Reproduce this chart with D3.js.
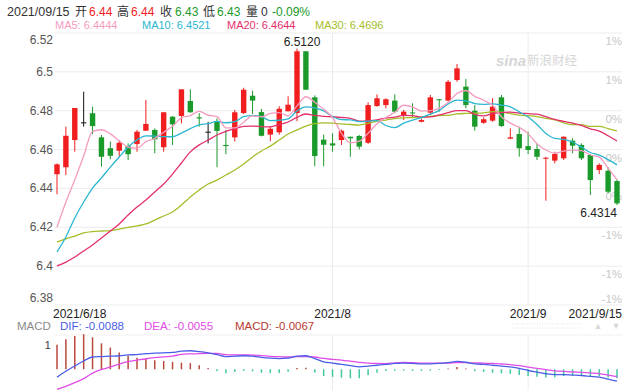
<!DOCTYPE html>
<html><head><meta charset="utf-8">
<script src="https://cdn.jsdelivr.net/npm/d3@7"></script>
<style>
html,body{margin:0;padding:0;background:#fff;}
svg{display:block;font-family:"Liberation Sans",Arial,"Noto Sans CJK SC",sans-serif;}
</style></head><body>
<svg id="chart" width="640" height="392"></svg>
<script>
// ---------- data ----------
const dates = [
 "2021-06-18","2021-06-21","2021-06-22","2021-06-23","2021-06-24","2021-06-25","2021-06-28","2021-06-29","2021-06-30",
 "2021-07-01","2021-07-02","2021-07-05","2021-07-06","2021-07-07","2021-07-08","2021-07-09","2021-07-12","2021-07-13","2021-07-14","2021-07-15","2021-07-16","2021-07-19","2021-07-20","2021-07-21","2021-07-22","2021-07-23","2021-07-26","2021-07-27","2021-07-28","2021-07-29","2021-07-30",
 "2021-08-02","2021-08-03","2021-08-04","2021-08-05","2021-08-06","2021-08-09","2021-08-10","2021-08-11","2021-08-12","2021-08-13","2021-08-16","2021-08-17","2021-08-18","2021-08-19","2021-08-20","2021-08-23","2021-08-24","2021-08-25","2021-08-26","2021-08-27","2021-08-30","2021-08-31",
 "2021-09-01","2021-09-02","2021-09-03","2021-09-06","2021-09-07","2021-09-08","2021-09-09","2021-09-10","2021-09-13","2021-09-14","2021-09-15"];
const open  = [6.4473,6.4509,6.4649,6.4740,6.4787,6.4663,6.4607,6.4594,6.4618,6.4629,6.4697,6.4701,6.4612,6.4769,6.4773,6.4850,6.4766,6.4692,6.4743,6.4624,6.4663,6.4788,6.4877,6.4793,6.4677,6.4689,6.4797,6.4788,6.5106,6.4869,6.4651,6.4632,6.4649,6.4666,6.4670,6.4635,6.4824,6.4829,6.4852,6.4773,6.4791,6.4743,6.4790,6.4859,6.4852,6.4958,6.4924,6.4800,6.4738,6.4749,6.4869,6.4656,6.4680,6.4618,6.4603,6.4555,6.4543,6.4555,6.4646,6.4624,6.4572,6.4495,6.4491,6.4438];
const high  = [6.4529,6.4718,6.4814,6.4898,6.4821,6.4675,6.4641,6.4649,6.4632,6.4701,6.4855,6.4709,6.4792,6.4772,6.4910,6.4910,6.4787,6.4743,6.4761,6.4701,6.4804,6.4918,6.4903,6.4809,6.4720,6.4823,6.4874,6.5120,6.5106,6.4879,6.4677,6.4684,6.4703,6.4666,6.4675,6.4843,6.4884,6.4864,6.4884,6.4804,6.4838,6.4760,6.4881,6.4859,6.4958,6.5040,6.4963,6.4829,6.4766,6.4864,6.4881,6.4709,6.4718,6.4692,6.4629,6.4563,6.4589,6.4668,6.4658,6.4632,6.4577,6.4529,6.4509,6.4446];
const low   = [6.4370,6.4469,6.4589,6.4718,6.4680,6.4512,6.4550,6.4563,6.4546,6.4589,6.4697,6.4581,6.4589,6.4624,6.4735,6.4790,6.4718,6.4632,6.4509,6.4576,6.4641,6.4783,6.4783,6.4668,6.4643,6.4677,6.4797,6.4746,6.4908,6.4514,6.4514,6.4589,6.4624,6.4563,6.4601,6.4629,6.4821,6.4812,6.4787,6.4752,6.4769,6.4740,6.4778,6.4795,6.4848,6.4949,6.4812,6.4697,6.4733,6.4743,6.4717,6.4653,6.4563,6.4577,6.4546,6.4337,6.4529,6.4546,6.4581,6.4546,6.4366,6.4474,6.4375,6.4314];
const close = [6.4524,6.4671,6.4814,6.4740,6.4721,6.4563,6.4568,6.4635,6.4576,6.4692,6.4732,6.4653,6.4792,6.4730,6.4910,6.4792,6.4760,6.4692,6.4696,6.4618,6.4792,6.4908,6.4852,6.4671,6.4707,6.4810,6.4831,6.5106,6.4908,6.4567,6.4625,6.4621,6.4697,6.4658,6.4615,6.4829,6.4864,6.4859,6.4795,6.4795,6.4787,6.4752,6.4869,6.4855,6.4949,6.5018,6.4829,6.4718,6.4756,6.4821,6.4721,6.4663,6.4607,6.4598,6.4563,6.4558,6.4577,6.4666,6.4620,6.4555,6.4443,6.4521,6.4383,6.4323];

const ma5  = [6.4200,6.4330,6.4445,6.4567,6.4694,6.4702,6.4681,6.4645,6.4613,6.4607,6.4641,6.4658,6.4689,6.4720,6.4763,6.4775,6.4797,6.4777,6.4770,6.4712,6.4712,6.4741,6.4773,6.4768,6.4786,6.4790,6.4774,6.4825,6.4872,6.4844,6.4807,6.4765,6.4684,6.4634,6.4643,6.4684,6.4733,6.4765,6.4792,6.4828,6.4820,6.4798,6.4800,6.4812,6.4842,6.4889,6.4904,6.4874,6.4854,6.4828,6.4769,6.4736,6.4714,6.4682,6.4630,6.4598,6.4581,6.4592,6.4597,6.4595,6.4572,6.4561,6.4504,6.4444];
const ma10 = [6.4073,6.4150,6.4248,6.4330,6.4402,6.4454,6.4510,6.4562,6.4613,6.4650,6.4671,6.4669,6.4667,6.4666,6.4685,6.4708,6.4727,6.4733,6.4745,6.4738,6.4744,6.4769,6.4775,6.4769,6.4749,6.4751,6.4758,6.4799,6.4820,6.4815,6.4799,6.4770,6.4754,6.4753,6.4744,6.4746,6.4749,6.4724,6.4713,6.4736,6.4752,6.4765,6.4782,6.4802,6.4835,6.4854,6.4851,6.4837,6.4833,6.4835,6.4829,6.4820,6.4794,6.4768,6.4729,6.4683,6.4658,6.4653,6.4639,6.4613,6.4585,6.4571,6.4548,6.4521];
const ma20 = [6.4001,6.4021,6.4047,6.4078,6.4109,6.4145,6.4181,6.4217,6.4263,6.4304,6.4340,6.4382,6.4423,6.4474,6.4531,6.4588,6.4624,6.4649,6.4675,6.4694,6.4707,6.4719,6.4721,6.4718,6.4717,6.4729,6.4742,6.4766,6.4783,6.4776,6.4771,6.4769,6.4765,6.4761,6.4746,6.4748,6.4753,6.4762,6.4767,6.4776,6.4775,6.4767,6.4768,6.4778,6.4790,6.4800,6.4800,6.4781,6.4773,6.4786,6.4790,6.4793,6.4788,6.4785,6.4782,6.4769,6.4755,6.4745,6.4736,6.4724,6.4707,6.4695,6.4671,6.4644];
const ma30 = [6.4124,6.4140,6.4155,6.4171,6.4178,6.4181,6.4183,6.4191,6.4199,6.4207,6.4217,6.4237,6.4258,6.4279,6.4315,6.4356,6.4392,6.4423,6.4443,6.4469,6.4495,6.4526,6.4562,6.4593,6.4618,6.4649,6.4680,6.4701,6.4721,6.4734,6.4737,6.4736,6.4732,6.4729,6.4726,6.4735,6.4746,6.4752,6.4759,6.4763,6.4765,6.4768,6.4771,6.4775,6.4776,6.4784,6.4786,6.4787,6.4789,6.4795,6.4793,6.4785,6.4777,6.4774,6.4770,6.4761,6.4753,6.4738,6.4728,6.4728,6.4719,6.4719,6.4708,6.4696];

const dif  = [-0.0058,-0.0015,0.0024,0.0061,0.0091,0.0094,0.0097,0.0100,0.0106,0.0109,0.0116,0.0119,0.0122,0.0125,0.0134,0.0137,0.0131,0.0122,0.0109,0.0094,0.0097,0.0100,0.0097,0.0088,0.0082,0.0079,0.0082,0.0097,0.0100,0.0079,0.0055,0.0046,0.0036,0.0027,0.0018,0.0024,0.0030,0.0036,0.0043,0.0046,0.0043,0.0040,0.0040,0.0043,0.0049,0.0058,0.0052,0.0040,0.0036,0.0030,0.0024,0.0018,0.0006,-0.0009,-0.0021,-0.0033,-0.0040,-0.0040,-0.0043,-0.0046,-0.0052,-0.0058,-0.0073,-0.0088];
const dea  = [-0.0149,-0.0126,-0.0099,-0.0069,-0.0028,-0.0002,0.0017,0.0038,0.0056,0.0067,0.0078,0.0086,0.0092,0.0098,0.0110,0.0114,0.0116,0.0117,0.0117,0.0109,0.0107,0.0106,0.0105,0.0101,0.0096,0.0093,0.0091,0.0093,0.0094,0.0091,0.0080,0.0074,0.0067,0.0060,0.0051,0.0046,0.0043,0.0042,0.0048,0.0051,0.0049,0.0046,0.0045,0.0046,0.0046,0.0050,0.0049,0.0047,0.0046,0.0043,0.0039,0.0035,0.0027,0.0016,0.0007,-0.0003,-0.0011,-0.0015,-0.0020,-0.0023,-0.0027,-0.0032,-0.0043,-0.0055];
const macdHist = [0.0182,0.0222,0.0246,0.0259,0.0237,0.0192,0.0161,0.0125,0.0100,0.0085,0.0076,0.0067,0.0061,0.0055,0.0049,0.0046,0.0030,0.0010,-0.0015,-0.0030,-0.0020,-0.0012,-0.0015,-0.0025,-0.0028,-0.0028,-0.0018,0.0009,0.0012,-0.0024,-0.0050,-0.0056,-0.0062,-0.0066,-0.0066,-0.0044,-0.0026,-0.0012,-0.0010,-0.0010,-0.0012,-0.0012,-0.0010,-0.0006,0.0006,0.0016,0.0006,-0.0014,-0.0020,-0.0026,-0.0030,-0.0034,-0.0042,-0.0050,-0.0055,-0.0060,-0.0058,-0.0050,-0.0046,-0.0046,-0.0050,-0.0052,-0.0060,-0.0067];

const priceTicks = [6.52,6.50,6.48,6.46,6.44,6.42,6.40,6.38];
const priceTickLabels = ["6.52","6.5","6.48","6.46","6.44","6.42","6.4","6.38"];
const pctTickLabels = ["1%","1%","0%","0%","0%","-1%","-1%","-1%"];
const dateTicks = ["2021-06-18","2021-08-02","2021-09-01","2021-09-15"];
const dateTickLabels = ["2021/6/18","2021/8","2021/9","2021/9/15"];
const macdTickLabel = "1";

// ---------- style ----------
const RED = "#f01e1e", GREEN = "#1a9a2a", BLACK = "#111";
const C5 = "#f49cc0", C10 = "#2bb6d0", C20 = "#e3306c", C30 = "#a6bd2a";
const CDIF = "#4b5ee6", CDEA = "#e24ce6", CHR = "#b8493c", CHG = "#3fc7a0";

const svg = d3.select("#chart");
const x = d3.scalePoint().domain(dates).range([57, 617]);
const y = d3.scaleLinear().domain([6.38, 6.52]).range([305, 33]);
const ym = d3.scaleLinear().domain([-0.0145, 0.0255]).range([388.9, 334.8]);
const GX0 = 55, GX1 = 622;

// grid
const g = svg.append("g");
g.selectAll("line.h").data(priceTicks).join("line")
  .attr("x1", GX0).attr("x2", GX1).attr("y1", d => y(d)).attr("y2", d => y(d))
  .attr("stroke", "#ececec").attr("stroke-width", 1);
const vTicks = dateTicks.slice(1, 3);
g.selectAll("line.v").data(vTicks).join("line")
  .attr("x1", d => x(d)).attr("x2", d => x(d)).attr("y1", 33).attr("y2", 305)
  .attr("stroke", "#ececec");
g.selectAll("line.vm").data(vTicks).join("line")
  .attr("x1", d => x(d)).attr("x2", d => x(d)).attr("y1", 335).attr("y2", 390)
  .attr("stroke", "#ececec");
g.append("line").attr("x1", GX0).attr("x2", GX1).attr("y1", 335).attr("y2", 335).attr("stroke", "#f0f0f0");

// left axis labels
svg.append("g").selectAll("text").data(priceTicks).join("text")
  .attr("x", 53).attr("text-anchor", "end")
  .attr("y", (d, i) => y(d) + (i === 0 ? 7 : i === priceTicks.length - 1 ? -7 : 0))
  .attr("dominant-baseline", "central")
  .attr("font-size", 12).attr("fill", "#555")
  .text((d, i) => priceTickLabels[i]);

// right axis labels
svg.append("g").selectAll("text").data(priceTicks).join("text")
  .attr("x", 622).attr("text-anchor", "end")
  .attr("y", (d, i) => y(d) + (i === priceTicks.length - 1 ? -6 : 8))
  .attr("dominant-baseline", "central")
  .attr("font-size", 11.5).attr("fill", "#c8c8c8")
  .text((d, i) => pctTickLabels[i]);

// watermark
const wm = svg.append("g").attr("fill", "#d6d6d6");
wm.append("text").attr("x", 496).attr("y", 66).attr("font-size", 15).attr("font-style", "italic").attr("font-weight", "bold").text("sina");
wm.append("text").attr("x", 527).attr("y", 65).attr("font-size", 12.5).attr("font-family", "Noto Sans CJK SC").text("新浪财经");

// date labels
svg.append("g").selectAll("text").data(dateTicks).join("text")
  .attr("x", (d, i) => i === 0 ? 53 : i === dateTicks.length - 1 ? 622 : x(d))
  .attr("text-anchor", (d, i) => i === 0 ? "start" : i === dateTicks.length - 1 ? "end" : "middle")
  .attr("y", 314).attr("dominant-baseline", "central")
  .attr("font-size", 12).attr("fill", "#222")
  .text((d, i) => dateTickLabels[i]);

// candles
const candles = dates.map((d, i) => ({ d, o: open[i], h: high[i], l: low[i], c: close[i] }));
const col = k => k.c > k.o ? RED : k.c < k.o ? GREEN : BLACK;
const cg = svg.append("g");
cg.selectAll("line").data(candles).join("line")
  .attr("x1", k => x(k.d)).attr("x2", k => x(k.d))
  .attr("y1", k => y(k.h)).attr("y2", k => y(k.l))
  .attr("stroke", col).attr("stroke-width", 1);
cg.selectAll("rect").data(candles).join("rect")
  .attr("x", k => x(k.d) - 2.7).attr("width", 5.4)
  .attr("y", k => y(Math.max(k.o, k.c)))
  .attr("height", k => Math.max(1, Math.abs(y(k.o) - y(k.c))))
  .attr("fill", col);

// MA lines
const lineP = d3.line().x((v, i) => x(dates[i])).y(v => y(v)).curve(d3.curveMonotoneX);
[[ma30, C30], [ma20, C20], [ma10, C10], [ma5, C5]].forEach(([arr, c]) => {
  svg.append("path").datum(arr).attr("d", lineP).attr("fill", "none")
    .attr("stroke", c).attr("stroke-width", 1.3);
});

// max / min labels
const iMax = d3.maxIndex(high), iMin = d3.minIndex(low);
svg.append("text").attr("x", x(dates[iMax]) + 5).attr("y", 42).attr("text-anchor", "middle")
  .attr("dominant-baseline", "central").attr("font-size", 12).attr("fill", "#222")
  .text(high[iMax].toFixed(4));
svg.append("text").attr("x", x(dates[iMin])).attr("y", 212.5).attr("text-anchor", "end")
  .attr("dominant-baseline", "central").attr("font-size", 12).attr("fill", "#222")
  .text(low[iMin].toFixed(4));

// header row 1
const L = dates.length - 1;
const chg = (close[L] - close[L - 1]) / close[L - 1] * 100;
const hdr = [
  ["2021/09/15", 7, "#333", 12.5], ["开", 75, "#333", 12], [open[L].toFixed(2), 89, RED, 12],
  ["高", 117, "#333", 12], [high[L].toFixed(2), 131, RED, 12], ["收", 160, "#333", 12],
  [close[L].toFixed(2), 175, GREEN, 12], ["低", 203, "#333", 12], [low[L].toFixed(2), 217, GREEN, 12],
  ["量", 246, "#333", 12], ["0", 261, "#333", 12], [chg.toFixed(2) + "%", 272, GREEN, 12]];
svg.append("g").selectAll("text").data(hdr).join("text")
  .attr("x", d => d[1]).attr("y", 12).attr("dominant-baseline", "central")
  .attr("font-size", d => d[3]).attr("fill", d => d[2]).text(d => d[0]);

// header row 2 (MA values)
const maHdr = [["MA5: " + ma5[L].toFixed(4), 55, C5], ["MA10: " + ma10[L].toFixed(4), 142, C10],
  ["MA20: " + ma20[L].toFixed(4), 227, C20], ["MA30: " + ma30[L].toFixed(4), 315, C30]];
svg.append("g").selectAll("text").data(maHdr).join("text")
  .attr("x", d => d[1]).attr("y", 25).attr("dominant-baseline", "central")
  .attr("font-size", 11).attr("fill", d => d[2]).text(d => d[0]);

// MACD header
const mHdr = [["MACD", 17, "#8a8a8a"], ["DIF: " + dif[L].toFixed(4), 60, CDIF],
  ["DEA: " + dea[L].toFixed(4), 144, CDEA], ["MACD: " + macdHist[L].toFixed(4), 235, "#b83a30"]];
svg.append("g").selectAll("text").data(mHdr).join("text")
  .attr("x", d => d[1]).attr("y", 326).attr("dominant-baseline", "central")
  .attr("font-size", 11.5).attr("fill", d => d[2]).text(d => d[0]);
svg.append("line").attr("x1", 512).attr("x2", 582).attr("y1", 324).attr("y2", 324)
  .attr("stroke", "#e2e2e2").attr("stroke-dasharray", "1,1.5");
svg.append("line").attr("x1", 512).attr("x2", 582).attr("y1", 328).attr("y2", 328)
  .attr("stroke", "#e2e2e2").attr("stroke-dasharray", "1,1.5");
svg.append("text").attr("x", 598).attr("y", 326).attr("text-anchor", "middle").attr("dominant-baseline", "central")
  .attr("font-size", 9).attr("fill", "#d8d8d8").text("▲");
svg.append("text").attr("x", 616).attr("y", 326).attr("text-anchor", "middle").attr("dominant-baseline", "central")
  .attr("font-size", 9).attr("fill", "#d8d8d8").text("▼");
svg.append("text").attr("x", 51).attr("y", 345).attr("text-anchor", "end").attr("dominant-baseline", "central")
  .attr("font-size", 11.5).attr("fill", "#444").text(macdTickLabel);

// MACD histogram
svg.append("g").selectAll("line").data(macdHist).join("line")
  .attr("x1", (v, i) => x(dates[i])).attr("x2", (v, i) => x(dates[i]))
  .attr("y1", ym(0)).attr("y2", v => ym(v))
  .attr("stroke", v => v >= 0 ? CHR : CHG).attr("stroke-width", 1.5);

// DIF / DEA
const lineM = d3.line().x((v, i) => x(dates[i])).y(v => ym(v)).curve(d3.curveMonotoneX);
svg.append("path").datum(dea).attr("d", lineM).attr("fill", "none").attr("stroke", CDEA).attr("stroke-width", 1.3);
svg.append("path").datum(dif).attr("d", lineM).attr("fill", "none").attr("stroke", CDIF).attr("stroke-width", 1.3);
</script>
</body></html>
